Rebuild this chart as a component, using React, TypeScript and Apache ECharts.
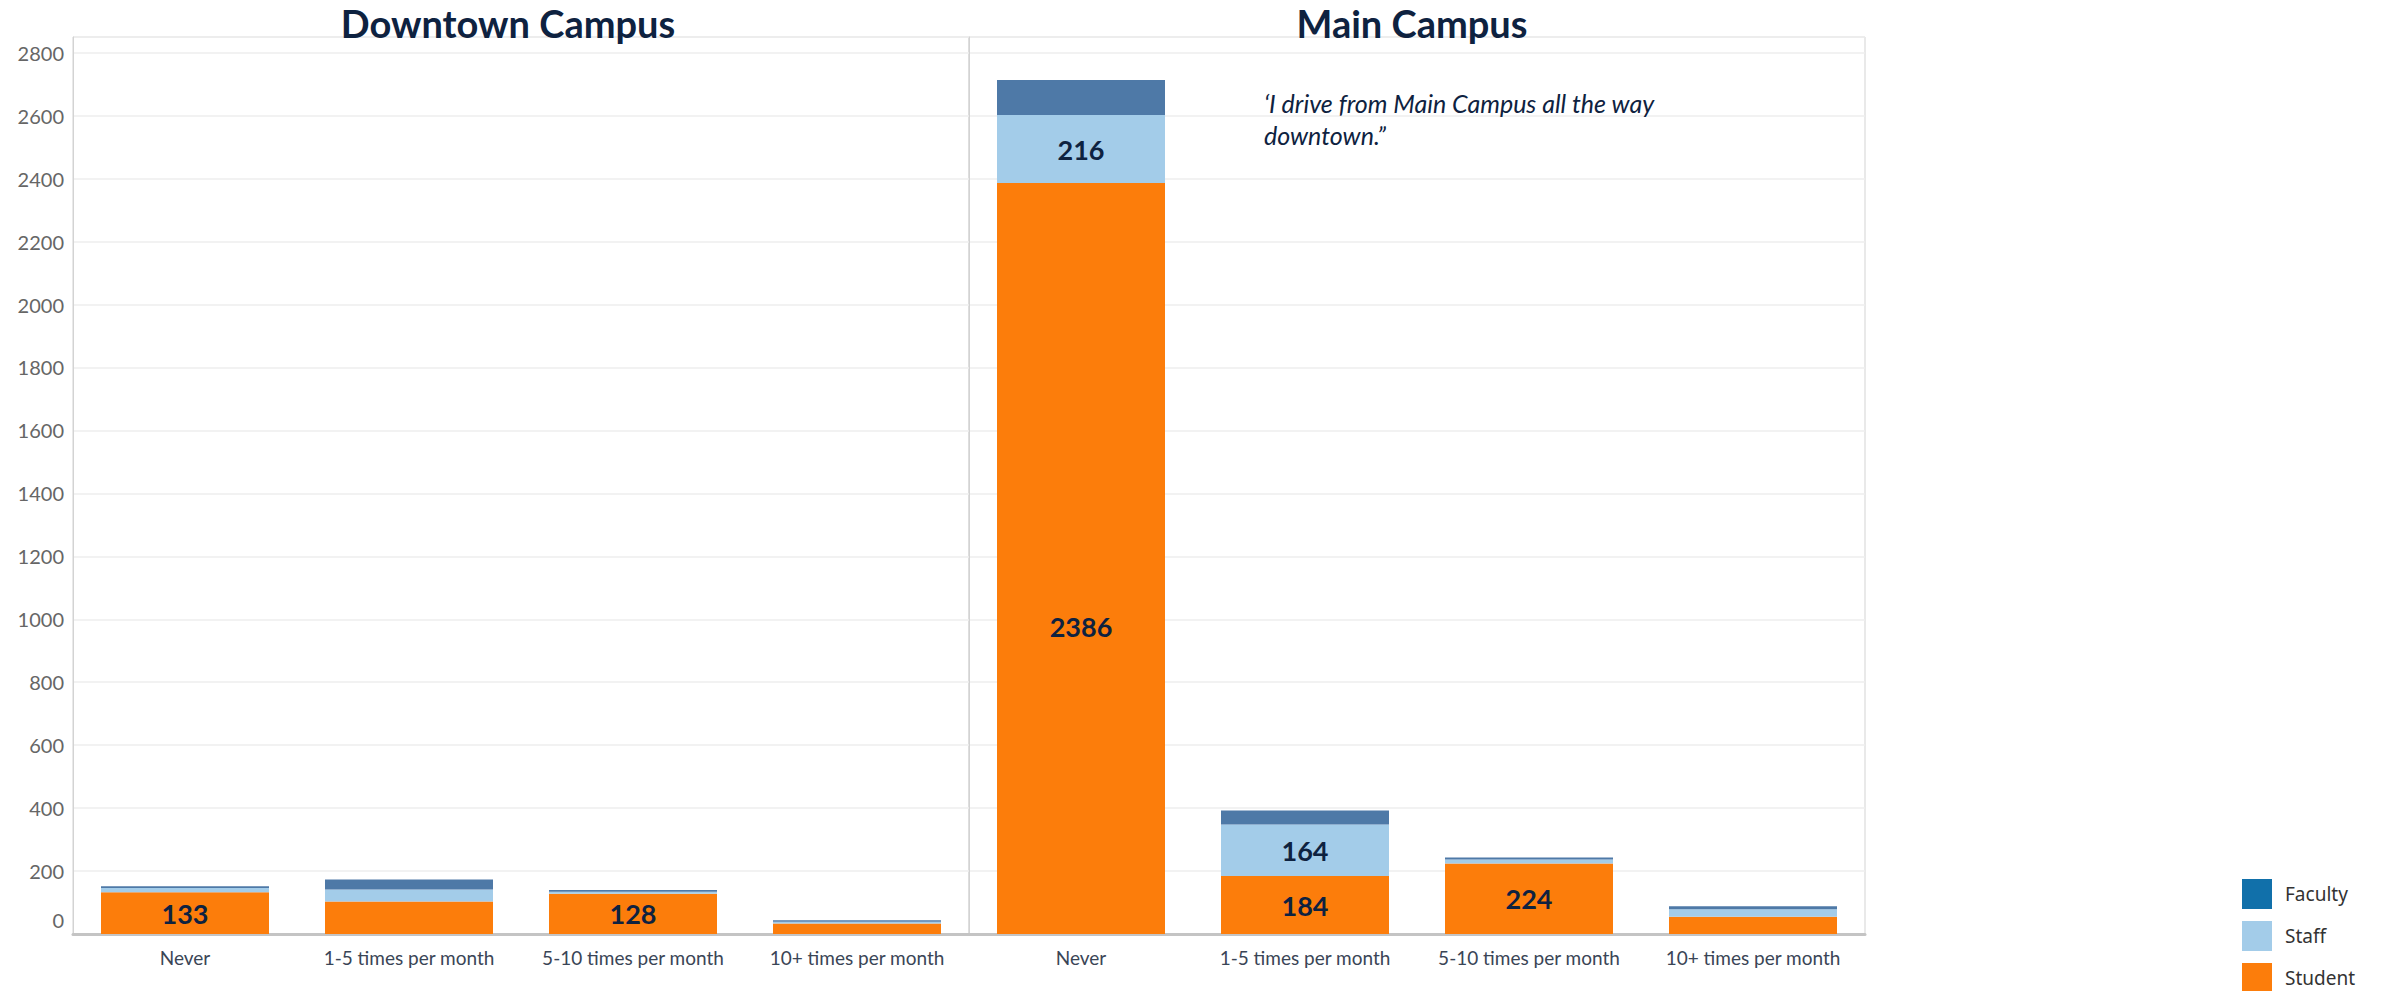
import React, { useEffect, useRef } from "react";
import * as echarts from "echarts";

const categories = ["Never", "1-5 times per month", "5-10 times per month", "10+ times per month"];
const panels = ["Downtown Campus", "Main Campus"];
const downtownStudent = [133, 103, 128, 33];
const downtownStaff = [13, 38, 6, 6];
const downtownFaculty = [6, 32, 6, 5];
const mainStudent = [2386, 184, 224, 55];
const mainStaff = [216, 164, 13, 24];
const mainFaculty = [111, 44, 6, 9];
const annotation = "‘I drive from Main Campus all the way\ndowntown.”";
const labelThreshold = 120;

const NAVY = "#0e2240";
const FONT = "Lato, 'Open Sans', sans-serif";
const COLORS = { Faculty: "#4e79a7", Staff: "#a3cce9", Student: "#fc7d0b" };
const LEGEND_COLORS = { Faculty: "#1170aa", Staff: "#a3cce9", Student: "#fc7d0b" };

export default function App() {
  const ref = useRef<HTMLDivElement>(null);
  useEffect(() => {
    if (!ref.current) return;
    const chart = echarts.init(ref.current, null, { renderer: "svg" });
    const grids = [
      { left: 73, top: 37, width: 896, height: 897 },
      { left: 969, top: 37, width: 896, height: 897 },
    ];
    const panelData = [
      { Student: downtownStudent, Staff: downtownStaff, Faculty: downtownFaculty },
      { Student: mainStudent, Staff: mainStaff, Faculty: mainFaculty },
    ];
    const series: any[] = [];
    panelData.forEach((pd, gi) => {
      (["Student", "Staff", "Faculty"] as const).forEach((name) => {
        series.push({
          type: "bar",
          name,
          xAxisIndex: gi,
          yAxisIndex: gi,
          stack: "s" + gi,
          barCategoryGap: "25%",
          itemStyle: { color: COLORS[name] },
          label: {
            show: true,
            position: "inside",
            fontFamily: FONT,
            fontWeight: "bold",
            fontSize: 27,
            color: NAVY,
            formatter: (p: any) => (p.value >= labelThreshold ? String(p.value) : ""),
          },
          data: pd[name].map((v) =>
            v > 1000 ? { value: v, label: { position: ["50%", "59%"], align: "center", verticalAlign: "middle" } } : v
          ),
        });
      });
    });
    const option: any = {
      animation: false,
      backgroundColor: "#ffffff",
      grid: grids.map((g) => ({ ...g, show: true, borderColor: "#d3d3d3", borderWidth: 1, backgroundColor: "transparent" })),
      legend: {
        type: "plain",
        orient: "vertical",
        left: 2242,
        top: 879,
        height: 200,
        padding: 0,
        itemWidth: 30,
        itemHeight: 30,
        itemGap: 12,
        icon: "rect",
        selectedMode: false,
        textStyle: { fontFamily: "'Noto Sans', sans-serif", fontSize: 19, color: "#333333", padding: [0, 0, 0, 8] },
        data: (["Faculty", "Staff", "Student"] as const).map((n) => ({ name: n, itemStyle: { color: LEGEND_COLORS[n] } })),
      },
      xAxis: grids.map((_, i) => ({
        type: "category",
        gridIndex: i,
        data: categories,
        axisLine: { show: true, lineStyle: { color: "#c4c4c4", width: 3 } },
        axisTick: { show: false },
        axisLabel: { interval: 0, fontFamily: FONT, fontSize: 19, color: "#3a4556", margin: 14 },
      })),
      yAxis: grids.map((_, i) => ({
        type: "value",
        gridIndex: i,
        min: 0,
        max: 2850,
        interval: 200,
        axisLine: { show: true, lineStyle: { color: "#d3d3d3", width: 1 } },
        axisTick: { show: false },
        splitLine: { show: true, lineStyle: { color: "#eeeeee", width: 1.5 } },
        axisLabel: {
          show: i === 0,
          showMaxLabel: false,
          fontFamily: FONT,
          fontSize: 20,
          color: "#666666",
          margin: 9,
          formatter: (v: number) => (v === 0 ? "{z|0}" : v > 2800 ? "" : String(v)),
          rich: { z: { fontFamily: FONT, fontSize: 20, color: "#666666", padding: [0, 0, 28, 0] } },
        },
      })),
      graphic: [
        {
          type: "text",
          x: 508,
          y: 23,
          style: { text: panels[0], align: "center", verticalAlign: "middle", fontFamily: FONT, fontSize: 38, fontWeight: "bold", fill: NAVY },
          silent: true,
          z: 100,
        },
        {
          type: "text",
          x: 1412,
          y: 23,
          style: { text: panels[1], align: "center", verticalAlign: "middle", fontFamily: FONT, fontSize: 38, fontWeight: "bold", fill: NAVY },
          silent: true,
          z: 100,
        },
        {
          type: "text",
          x: 1264,
          y: 87,
          style: { text: annotation, align: "left", verticalAlign: "top", fontFamily: FONT, fontSize: 25, fontStyle: "italic", lineHeight: 32, fill: NAVY },
          silent: true,
          z: 100,
        },
      ],
      series,
    };
    chart.setOption(option);
    return () => chart.dispose();
  }, []);
  return <div ref={ref} style={{ position: "absolute", left: 0, top: 0, width: 2393, height: 991 }} />;
}
